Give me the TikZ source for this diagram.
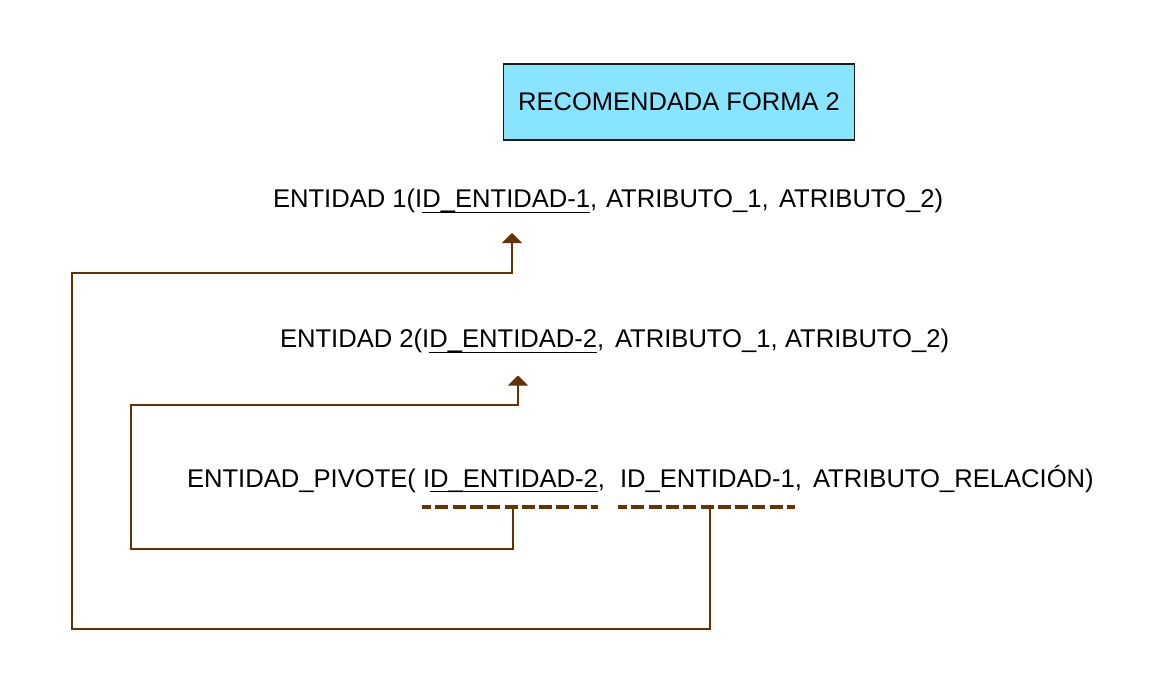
\documentclass[tikz,border=0pt]{standalone}
\usepackage{fontspec}
\setmainfont{Liberation Sans}
\usetikzlibrary{arrows.meta}
\definecolor{brownline}{HTML}{663300}
\definecolor{boxfill}{HTML}{89E5FF}
\tikzset{
  txt/.style={inner sep=0pt, outer sep=0pt, anchor=base west, font=\fontsize{25.6}{30}\selectfont},
  titlebox/.style={draw=black!90, line width=1.6pt, fill=boxfill, minimum width=351pt, minimum height=76pt, inner sep=0pt, font=\fontsize{25.5}{30}\selectfont},
  uline/.style={line width=1.6pt, black},
  keydash/.style={line width=4pt, brownline, dash pattern=on 13pt off 4.3pt, dash phase=4pt},
  conn/.style={line width=2pt, brownline},
  arr/.style={conn, -{Triangle[width=20pt,length=10pt]}},
}
\begin{document}
\begin{tikzpicture}[x=1pt,y=-1pt]
\useasboundingbox (0,0) rectangle (1160,677);

% title box
\node[titlebox] (title) at (679,102) {RECOMENDADA FORMA 2};

% entity 1
\node[txt] (e1a) at (273,207.5) {ENTIDAD 1(I};
\node[txt] (e1k) at (e1a.base east) {D\_ENTIDAD-1};
\node[txt] (e1c) at (e1k.base east) {,};
\node[txt] (e1b) at (606,207.5) {ATRIBUTO\_1,};
\node[txt] (e1d) at (779,207.5) {ATRIBUTO\_2)};
\draw[uline] ([yshift=-5pt]e1k.base west) -- ([yshift=-5pt]e1k.base east);

% entity 2
\node[txt] (e2a) at (280,347.5) {ENTIDAD 2(I};
\node[txt] (e2k) at (e2a.base east) {D\_ENTIDAD-2};
\node[txt] (e2c) at (e2k.base east) {,};
\node[txt] (e2b) at (615,347.5) {ATRIBUTO\_1,};
\node[txt] (e2d) at (785,347.5) {ATRIBUTO\_2)};
\draw[uline] ([yshift=-5pt]e2k.base west) -- ([yshift=-5pt]e2k.base east);

% pivot
\node[txt] (pa) at (187,487.5) {ENTIDAD\_PIVOTE(};
\node[txt] (pi) at (423,487.5) {I};
\node[txt] (pk) at (pi.base east) {D\_ENTIDAD-2};
\node[txt] (pc) at (pk.base east) {,};
\node[txt] (pf) at (620,487.5) {ID\_ENTIDAD-1,};
\node[txt] (pr) at (813,487.5) {ATRIBUTO\_RELACIÓN)};
\draw[uline] ([yshift=-4pt]pk.base west) -- ([yshift=-4pt]pk.base east);

% dashed key marks
\coordinate (d1a) at (422,507);
\coordinate (d1b) at (598,507);
\coordinate (d2a) at (618,507);
\coordinate (d2b) at (795,507);
\draw[keydash] (d1a) -- (d1b);
\draw[keydash] (d2a) -- (d2b);

% connector pivot ID_ENTIDAD-2 -> entity 2
\coordinate (s2) at (513,509);
\coordinate (t2) at (518,375.5);
\draw[arr] (s2) -- (513,549) -- (131,549) -- (131,405) -- (518,405) -- (t2);

% connector pivot ID_ENTIDAD-1 -> entity 1
\coordinate (s1) at (710,509);
\coordinate (t1) at (512,233);
\draw[arr] (s1) -- (710,629) -- (72,629) -- (72,273) -- (512,273) -- (t1);
\end{tikzpicture}
\end{document}
